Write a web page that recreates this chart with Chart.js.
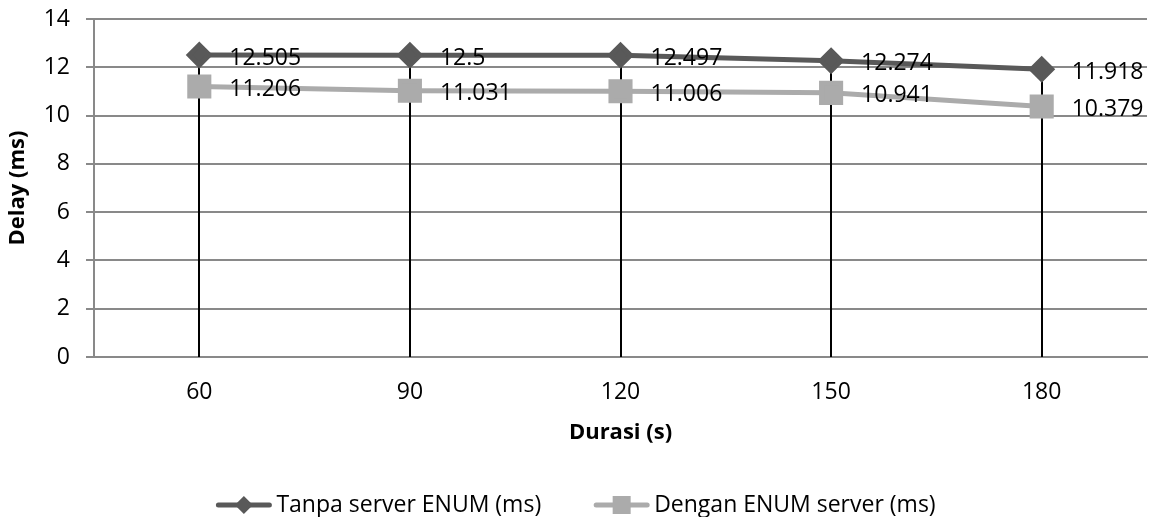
<!DOCTYPE html>
<html>
<head>
<meta charset="utf-8">
<script src="https://cdn.jsdelivr.net/npm/chart.js@4.4.1/dist/chart.umd.min.js"></script>
<style>
  html, body { margin: 0; padding: 0; background: #fff; }
  #wrap { width: 1151px; height: 517px; }
</style>
</head>
<body>
<div id="wrap"><canvas id="chartContainer" width="1151" height="517"></canvas></div>
<script>
var durasi = ['60', '90', '120', '150', '180'];
var tanpaEnum = [12.505, 12.5, 12.497, 12.274, 11.918];
var denganEnum = [11.206, 11.031, 11.006, 10.941, 10.379];
var yTicks = [0, 2, 4, 6, 8, 10, 12, 14];

var darkGray = '#595959';
var lightGray = '#ababab';
var gridGray = '#898989';
var fontFamily = '"Open Sans", sans-serif';

// black drop lines from the top series down to the x axis
var dropLines = {
  id: 'dropLines',
  beforeDatasetsDraw: function(chart) {
    var ctx = chart.ctx;
    var meta = chart.getDatasetMeta(0);
    var yBottom = chart.scales.y.getPixelForValue(0);
    ctx.save();
    ctx.strokeStyle = '#000';
    ctx.lineWidth = 2;
    meta.data.forEach(function(pt) {
      ctx.beginPath();
      ctx.moveTo(Math.round(pt.x), pt.y);
      ctx.lineTo(Math.round(pt.x), yBottom);
      ctx.stroke();
    });
    ctx.restore();
  }
};

// value labels to the right of each point
var valueLabels = {
  id: 'valueLabels',
  afterDatasetsDraw: function(chart) {
    var ctx = chart.ctx;
    ctx.save();
    ctx.font = '23px ' + fontFamily;
    ctx.fillStyle = '#000';
    ctx.textAlign = 'left';
    ctx.textBaseline = 'middle';
    chart.data.datasets.forEach(function(ds, i) {
      chart.getDatasetMeta(i).data.forEach(function(pt, j) {
        ctx.fillText(String(ds.data[j]), pt.x + 30, pt.y + 3);
      });
    });
    ctx.restore();
  }
};

// legend drawn like the excel one: line with marker, then text
var lineLegend = {
  id: 'lineLegend',
  afterDraw: function(chart) {
    var ctx = chart.ctx;
    var iconW = 57, gapText = 4, gapItem = 52;
    var y = chart.height - 12;
    ctx.save();
    ctx.font = '23px ' + fontFamily;
    var items = chart.data.datasets.map(function(ds) {
      return { ds: ds, w: ctx.measureText(ds.label).width };
    });
    var total = 0;
    items.forEach(function(it, i) { total += iconW + gapText + it.w + (i ? gapItem : 0); });
    var x = (chart.width - total) / 2;
    items.forEach(function(it) {
      var c = it.ds.borderColor;
      ctx.strokeStyle = c; ctx.lineWidth = 5; ctx.lineCap = 'round';
      ctx.beginPath(); ctx.moveTo(x + 3, y); ctx.lineTo(x + iconW - 3, y); ctx.stroke();
      ctx.fillStyle = c;
      var cx = x + iconW / 2;
      ctx.beginPath();
      if (it.ds.pointStyle === 'rectRot') {
        ctx.moveTo(cx, y - 9); ctx.lineTo(cx + 9, y); ctx.lineTo(cx, y + 9); ctx.lineTo(cx - 9, y);
      } else {
        ctx.rect(cx - 9, y - 9, 18, 18);
      }
      ctx.closePath(); ctx.fill();
      ctx.fillStyle = '#000';
      ctx.textAlign = 'left';
      ctx.textBaseline = 'middle';
      ctx.fillText(it.ds.label, x + iconW + gapText, y);
      x += iconW + gapText + it.w + gapItem;
    });
    ctx.restore();
  }
};

var ctx = document.getElementById('chartContainer').getContext('2d');
new Chart(ctx, {
  type: 'line',
  data: {
    labels: durasi,
    datasets: [{
      label: 'Tanpa server ENUM (ms)',
      data: tanpaEnum,
      borderColor: darkGray,
      backgroundColor: darkGray,
      borderWidth: 5,
      pointStyle: 'rectRot',
      pointRadius: 10,
      pointHoverRadius: 10,
      tension: 0
    }, {
      label: 'Dengan ENUM server (ms)',
      data: denganEnum,
      borderColor: lightGray,
      backgroundColor: lightGray,
      borderWidth: 5,
      pointStyle: 'rect',
      pointRadius: 13.5,
      pointHoverRadius: 13.5,
      tension: 0
    }]
  },
  options: {
    responsive: false,
    animation: false,
    layout: { autoPadding: false, padding: { top: 19, right: 4, left: 0, bottom: 60 } },
    plugins: {
      tooltip: { enabled: false },
      legend: { display: false }
    },
    scales: {
      x: {
        offset: true,
        grid: { display: false, drawTicks: false },
        border: { color: gridGray, width: 2 },
        ticks: { color: '#000', font: { family: fontFamily, size: 23 }, padding: 22 },
        title: { display: true, text: 'Durasi (s)', color: '#000', font: { family: fontFamily, size: 22, weight: 'bold' }, padding: { top: 0, bottom: 11 } },
        afterFit: function(scale) {
          scale.height = 100;
          scale.paddingLeft = 0;
          scale.paddingRight = 0;
        }
      },
      y: {
        min: 0,
        max: 14,
        afterBuildTicks: function(scale) { scale.ticks = yTicks.map(function(v) { return { value: v }; }); },
        grid: { color: gridGray, lineWidth: 2, tickLength: 8 },
        border: { color: gridGray, width: 2 },
        ticks: { color: '#000', font: { family: fontFamily, size: 23 }, padding: 16 },
        title: { display: true, text: 'Delay (ms)', color: '#000', font: { family: fontFamily, size: 22, weight: 'bold' }, padding: { top: 5, bottom: 0 } },
        afterFit: function(scale) {
          scale.width = 94;
          scale.paddingTop = 0;
          scale.paddingBottom = 0;
        }
      }
    }
  },
  plugins: [dropLines, valueLabels, lineLegend]
});
</script>
</body>
</html>
